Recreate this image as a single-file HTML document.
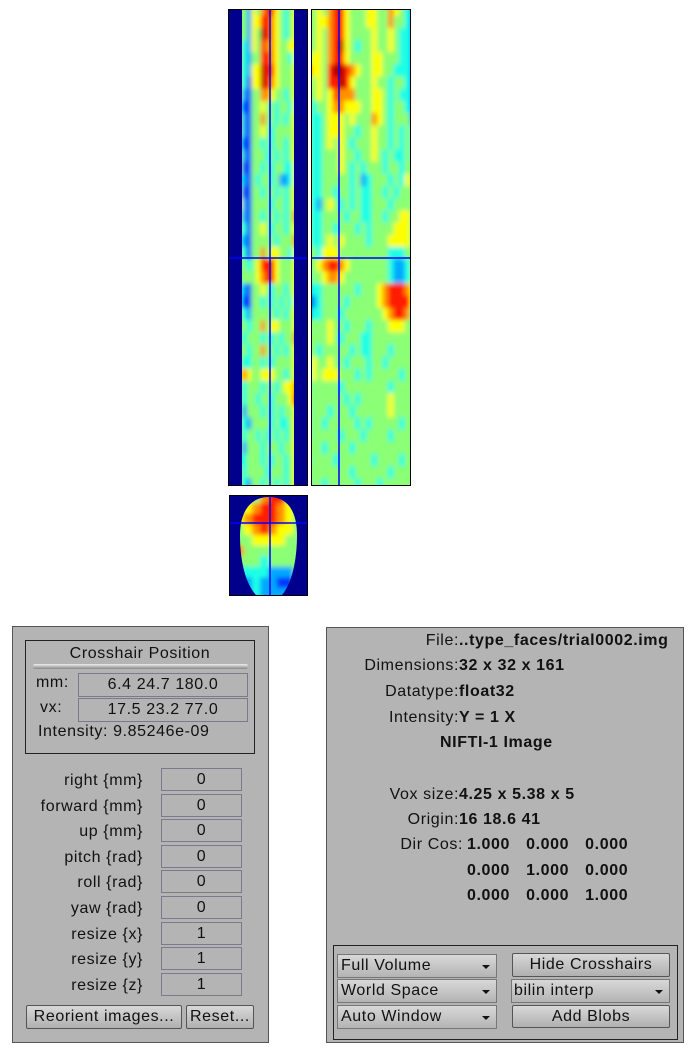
<!DOCTYPE html>
<html><head><meta charset="utf-8">
<style>
body{margin:0;width:692px;height:1049px;background:#fff;position:relative;font-family:"Liberation Sans","DejaVu Sans",sans-serif;overflow:hidden}
.a{position:absolute}
.panel{background:#b4b4b4;border:1px solid #555;box-sizing:border-box}
.lbl{font-size:16px;letter-spacing:0.6px;color:#111;white-space:nowrap}
.box{background:#b4b4b4;border:1px solid #7a7a8a;box-sizing:border-box;font-size:16px;letter-spacing:0.6px;text-align:center;color:#111;line-height:21px}
.btn{background:linear-gradient(#d8d8d8,#b0b0b0);border:1px solid #555;box-sizing:border-box;font-size:16px;letter-spacing:0.6px;text-align:center;color:#111;line-height:21px;border-radius:2px}
.dd{background:linear-gradient(#d8d8d8,#b4b4b4);border:1px solid #777;box-sizing:border-box;font-size:16px;letter-spacing:0.6px;color:#111;line-height:21px;padding-left:3px}
.dd:after{content:"";position:absolute;right:6px;top:10px;border-left:4px solid transparent;border-right:4px solid transparent;border-top:4px solid #111}
.r{text-align:right}
b{font-weight:bold;letter-spacing:0.6px}
</style></head><body>
<svg class="a" style="left:0;top:0" width="692" height="600">
<defs>
<filter id="bl" x="-5%" y="-5%" width="110%" height="110%"><feGaussianBlur stdDeviation="2.5"/></filter>
<clipPath id="c1"><rect x="242" y="10" width="52" height="475"/></clipPath>
<clipPath id="c2"><rect x="312" y="10" width="98" height="475"/></clipPath>
<clipPath id="c3"><path d="M269 497 C290 497 297 515 297 535 C297 560 292 583 282 595 L256 595 C245 583 240 560 240 535 C240 515 248 497 269 497Z"/></clipPath>
</defs>
<rect x="228.5" y="9.5" width="79" height="476" fill="#00008c" stroke="#000"/>
<rect x="311.5" y="9.5" width="99" height="476" fill="#00008c" stroke="#000"/>
<rect x="229.5" y="495.5" width="78" height="100" fill="#00008c" stroke="#000"/>
<g id="g1" clip-path="url(#c1)"><g id="h1" filter="url(#bl)"></g></g>
<g id="g2" clip-path="url(#c2)"><g id="h2" filter="url(#bl)"></g></g>
<g id="g3" clip-path="url(#c3)"><g id="h3" filter="url(#bl)"></g></g>
<g stroke="#0000ff" stroke-width="1.5">
<line x1="270" y1="10" x2="270" y2="485"/>
<line x1="229" y1="258" x2="307" y2="258"/>
<line x1="339" y1="10" x2="339" y2="485"/>
<line x1="312" y1="258" x2="410" y2="258"/>
<line x1="270" y1="496" x2="270" y2="595"/>
<line x1="230" y1="523" x2="307" y2="523"/>
</g>
</svg>
<script>
const sagRows=["5536578865456","5536688765456","5536598765456","5436587765566","5435588765546","5436698865556","5426698765556","5325577655456","4225565545546","5325575545456","5325565455556","4225545455456","5325554545456","5225545455446","4325455453346","5225545545456","6325555455456","5325545545457","5425565455456","4325555545557","5425575665546","5545688865556","5555678865556","4325565455456","4225545454546","5435555545456","5545575665556","5455545454557","5545575545456","5445545455556","6765566655456","5455545545667","5455455455568","5355545454556","5435555454456","5455454545456","5355545554556","4455545455456","5455554555456","5435545545456"];
const corRows=["55657886555665576543","55667886555665575543","55657886555565565443","55657896545565565443","56657886555566555443","86658998765566554443","65658898655565545543","55656877755566545443","54556776665566545543","54456665655576545553","54456665545565545454","54456565455565545454","54455565545565454454","54455565454555455455","54455555453455545465","54455455454455454555","54356545454455545555","54455554554455455665","54455455545455556665","54456565555455566665","55466655555555544455","55678876555555543345","45567765555555543345","34455555545556788876","13455554555556788886","24455545555555678875","55556554555455566655","55556545554455555555","55455555454455545555","46556554555455455555","46566655545455555455","45555545555555545555","55555554545555565555","45554555455555565555","45545555545455555455","45555545554555545555","55545555455555555555","45555455555545555455","55555555455555545555","45545555545554555555"];
const axRows=["55578855","56788765","67888765","56787665","55666655","75555555","55545555","44443335","43433225","43433335"];
function jet(v){const t=(v-0.4)/9,c=x=>Math.round(255*Math.max(0,Math.min(1,x)));return `rgb(${c(1.5-Math.abs(4*t-3))},${c(1.5-Math.abs(4*t-2))},${c(1.5-Math.abs(4*t-1))})`;}
function draw(id,rows,x0,y0,w,h,name){const g=document.getElementById(id);const nr=rows.length,nc=rows[0].length;const cw=w/nc,ch=h/nr;
for(let r=0;r<nr;r++)for(let c=0;c<nc;c++){const e=document.createElementNS("http://www.w3.org/2000/svg","rect");
e.setAttribute("x",x0+c*cw-0.5);e.setAttribute("y",y0+r*ch-0.5);e.setAttribute("width",cw+1);e.setAttribute("height",ch+1);
e.setAttribute("fill",jet(+rows[r][c]));


g.appendChild(e);}}
draw("h1",sagRows,238,4,60,487,"sagittal-cell");
draw("h2",corRows,306,4,110,487,"coronal-cell");
draw("h3",axRows,236,493,66,106,"axial-cell");
</script>

<div class="a panel" style="left:12px;top:626px;width:257px;height:417px"></div>
<div class="a" style="left:25px;top:640px;width:230px;height:114px;border:1px solid #222;box-sizing:border-box"></div>
<div class="a lbl" style="left:25px;top:645px;width:230px;text-align:center">Crosshair Position</div>
<div class="a" style="left:33px;top:664px;width:215px;height:5px;background:linear-gradient(#eee,#888);border-radius:2px"></div>
<div class="a lbl" style="left:36px;top:674px">mm:</div>
<div class="a box" style="left:78px;top:673px;width:170px;height:24px">6.4 24.7 180.0</div>
<div class="a lbl" style="left:40px;top:699px">vx:</div>
<div class="a box" style="left:78px;top:698px;width:170px;height:24px">17.5 23.2 77.0</div>
<div class="a lbl" style="left:38px;top:723px">Intensity: 9.85246e-09</div>

<div class="a lbl r" style="left:16px;top:772px;width:127px">right {mm}</div>
<div class="a box" style="left:161px;top:768px;width:81px;height:23px">0</div>
<div class="a lbl r" style="left:16px;top:798px;width:127px">forward {mm}</div>
<div class="a box" style="left:161px;top:794px;width:81px;height:23px">0</div>
<div class="a lbl r" style="left:16px;top:823px;width:127px">up {mm}</div>
<div class="a box" style="left:161px;top:819px;width:81px;height:23px">0</div>
<div class="a lbl r" style="left:16px;top:849px;width:127px">pitch {rad}</div>
<div class="a box" style="left:161px;top:845px;width:81px;height:23px">0</div>
<div class="a lbl r" style="left:16px;top:874px;width:127px">roll {rad}</div>
<div class="a box" style="left:161px;top:870px;width:81px;height:23px">0</div>
<div class="a lbl r" style="left:16px;top:900px;width:127px">yaw {rad}</div>
<div class="a box" style="left:161px;top:896px;width:81px;height:23px">0</div>
<div class="a lbl r" style="left:16px;top:926px;width:127px">resize {x}</div>
<div class="a box" style="left:161px;top:922px;width:81px;height:23px">1</div>
<div class="a lbl r" style="left:16px;top:951px;width:127px">resize {y}</div>
<div class="a box" style="left:161px;top:947px;width:81px;height:23px">1</div>
<div class="a lbl r" style="left:16px;top:977px;width:127px">resize {z}</div>
<div class="a box" style="left:161px;top:973px;width:81px;height:23px">1</div>
<div class="a btn" style="left:26px;top:1005px;width:156px;height:24px">Reorient images...</div>
<div class="a btn" style="left:186px;top:1005px;width:68px;height:24px">Reset...</div>

<div class="a panel" style="left:326px;top:627px;width:358px;height:416px"></div>
<div class="a lbl r" style="left:330px;top:632px;width:129px">File:</div><div class="a lbl" style="left:459px;top:632px"><b>..type_faces/trial0002.img</b></div>
<div class="a lbl r" style="left:330px;top:657px;width:129px">Dimensions:</div><div class="a lbl" style="left:459px;top:657px"><b>32 x 32 x 161</b></div>
<div class="a lbl r" style="left:330px;top:683px;width:129px">Datatype:</div><div class="a lbl" style="left:459px;top:683px"><b>float32</b></div>
<div class="a lbl r" style="left:330px;top:709px;width:129px">Intensity:</div><div class="a lbl" style="left:459px;top:709px"><b>Y = 1 X</b></div>
<div class="a lbl" style="left:440px;top:734px"><b>NIFTI-1 Image</b></div>
<div class="a lbl r" style="left:330px;top:786px;width:129px">Vox size:</div><div class="a lbl" style="left:459px;top:786px"><b>4.25 x 5.38 x 5</b></div>
<div class="a lbl r" style="left:330px;top:811px;width:129px">Origin:</div><div class="a lbl" style="left:459px;top:811px"><b>16 18.6 41</b></div>
<div class="a lbl r" style="left:330px;top:836px;width:133px">Dir Cos:</div>
<div class="a lbl" style="left:467px;top:836px;word-spacing:11px"><b>1.000 0.000 0.000</b></div>
<div class="a lbl" style="left:467px;top:862px;word-spacing:11px"><b>0.000 1.000 0.000</b></div>
<div class="a lbl" style="left:467px;top:887px;word-spacing:11px"><b>0.000 0.000 1.000</b></div>
<div class="a" style="left:333px;top:945px;width:345px;height:95px;border:1px solid #222;box-sizing:border-box"></div>
<div class="a dd" style="left:337px;top:954px;width:160px;height:24px">Full Volume</div>
<div class="a dd" style="left:337px;top:979px;width:160px;height:24px">World Space</div>
<div class="a dd" style="left:337px;top:1005px;width:160px;height:24px">Auto Window</div>
<div class="a btn" style="left:512px;top:953px;width:158px;height:24px">Hide Crosshairs</div>
<div class="a dd" style="left:511px;top:979px;width:159px;height:24px;padding-left:2px">bilin interp</div>
<div class="a btn" style="left:512px;top:1005px;width:158px;height:23px">Add Blobs</div>
</body></html>
